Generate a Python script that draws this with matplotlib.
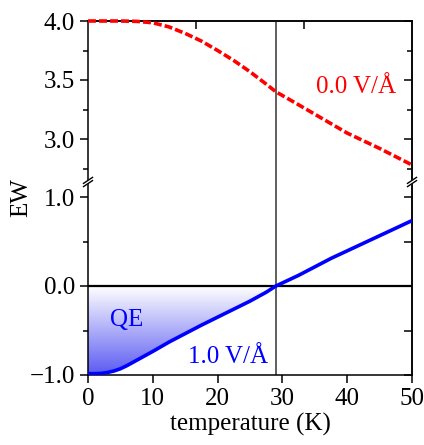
import numpy as np
import matplotlib
matplotlib.use("Agg")
import matplotlib.pyplot as plt
from matplotlib.colors import LinearSegmentedColormap
from matplotlib.patches import Polygon
from matplotlib.lines import Line2D
from matplotlib.ticker import FuncFormatter

# ---- data ----
temp_red = [0, 2.5, 5, 7.5, 10, 12.5, 15, 17.5, 20, 22.5, 25, 27.5, 29, 32.5, 35, 37.5, 40, 42.5, 45, 47.5, 50]
ew_red = [4.0, 4.0, 4.0, 3.997, 3.985, 3.95, 3.895, 3.83, 3.75, 3.665, 3.57, 3.465, 3.40, 3.29, 3.21, 3.13, 3.05, 2.985, 2.92, 2.85, 2.78]

temp_blue = [0, 1, 2, 3, 4, 5, 6, 7, 8, 10, 12.5, 15, 17.5, 20, 22.5, 25, 27.5, 29, 32.5, 35, 37.5, 40, 42.5, 45, 47.5, 50]
ew_blue = [-0.985, -0.985, -0.982, -0.972, -0.955, -0.93, -0.895, -0.855, -0.815, -0.735, -0.63, -0.535, -0.44,
           -0.35, -0.26, -0.17, -0.07, 0.0, 0.12, 0.215, 0.31, 0.395, 0.48, 0.565, 0.65, 0.735]

t_critical = 29.0
label_red = "0.0 V/Å"
label_blue = "1.0 V/Å"
label_qe = "QE"
xticks = [0, 10, 20, 30, 40, 50]

FS = 18
plt.rcParams['font.family'] = ['Liberation Serif', 'DejaVu Serif']
plt.rcParams['font.size'] = FS
plt.rcParams['axes.linewidth'] = 1.1

W, H = 424, 445
fig = plt.figure(figsize=(W / 100, H / 100), dpi=100)
left, right = 88 / W, 412 / W
y_top, y_brk, y_bot = 1 - 21 / H, 1 - 182 / H, 1 - 375 / H

ax_t = fig.add_axes([left, y_brk, right - left, y_top - y_brk])
ax_b = fig.add_axes([left, y_bot, right - left, y_brk - y_bot])

red = '#ff0000'
blue = '#0000ff'
fmt = FuncFormatter(lambda v, p: ('%.1f' % v).replace('-', '\u2212'))

# top panel
ax_t.plot(temp_red, ew_red, color=red, lw=2.6, dashes=(2.2, 0.85), clip_on=False, zorder=3)
ax_t.axvline(t_critical, color='#444444', lw=1.2, zorder=2)
ax_t.set_xlim(0, 50)
ax_t.set_ylim(4.0 - 161 / 118, 4.0)
ax_t.set_yticks([3.0, 3.5, 4.0])
ax_t.set_yticks([2.75, 3.25, 3.75], minor=True)
ax_t.yaxis.set_major_formatter(fmt)
ax_t.set_xticks([])
ax_t.spines['bottom'].set_visible(False)
ax_t.tick_params(axis='y', which='major', direction='out', length=6, width=1.1, right=False)
ax_t.tick_params(axis='y', which='minor', direction='out', length=3.5, width=1.1, right=False)
ax_t.text(41.4, 3.44, label_red, color=red, ha='center', va='center', fontsize=FS)

sec_t = ax_t.secondary_yaxis('right')
sec_t.set_yticks([3.0, 3.5, 4.0])
sec_t.set_yticks([2.75, 3.25, 3.75], minor=True)
sec_t.tick_params(which='major', direction='in', length=6, width=1.1, labelright=False)
sec_t.tick_params(which='minor', direction='in', length=3.5, width=1.1, labelright=False)
sec_t.spines['right'].set_linewidth(1.1)

top_x = ax_t.secondary_xaxis('top')
top_x.set_xticks([50 / 3, 100 / 3])
top_x.tick_params(direction='in', length=6, width=1.1, labeltop=False)

# bottom panel
ax_b.axhline(0, color='black', lw=1.6, zorder=2)
ax_b.axvline(t_critical, color='#444444', lw=1.2, zorder=2)
ax_b.plot(temp_blue, ew_blue, color=blue, lw=2.6, zorder=4, solid_capstyle='butt')
ax_b.set_yticks([-1.0, 0.0, 1.0])
ax_b.set_yticks([-0.5, 0.5], minor=True)
ax_b.yaxis.set_major_formatter(fmt)
ax_b.set_xticks(xticks)
ax_b.spines['top'].set_visible(False)
ax_b.tick_params(axis='y', which='major', direction='out', length=6, width=1.1, right=False)
ax_b.tick_params(axis='y', which='minor', direction='out', length=3.5, width=1.1, right=False)
ax_b.tick_params(axis='x', direction='out', length=6, width=1.1, top=False)
ax_b.set_xlabel('temperature (K)', labelpad=2)

sec_b = ax_b.secondary_yaxis('right')
sec_b.set_yticks([-1.0, 0.0, 1.0])
sec_b.set_yticks([-0.5, 0.5], minor=True)
sec_b.tick_params(which='major', direction='in', length=6, width=1.1, labelright=False)
sec_b.tick_params(which='minor', direction='in', length=6, width=1.1, labelright=False)
sec_b.spines['right'].set_linewidth(1.1)

# gradient QE region
tb = np.array(temp_blue)
eb = np.array(ew_blue)
mask = tb <= t_critical
verts = list(zip(tb[mask], eb[mask])) + [(t_critical, 0.0), (0.0, 0.0)]
poly = Polygon(verts, closed=True, facecolor='none', edgecolor='none', transform=ax_b.transData)
ax_b.add_patch(poly)
cmap = LinearSegmentedColormap.from_list('qe', ['#ffffff', '#5a5af2'])
grad = np.linspace(0, 1, 256).reshape(-1, 1)
im = ax_b.imshow(grad, extent=[0, t_critical, 0, -1.0], origin='lower', cmap=cmap, aspect='auto',
                 zorder=1, interpolation='bilinear')
im.set_clip_path(poly)
ax_b.set_xlim(0, 50)
ax_b.set_ylim(-1.0, -1.0 + 193 / 89)

ax_b.text(6.0, -0.38, label_qe, color=blue, ha='center', va='center', fontsize=FS)
ax_b.text(21.6, -0.80, label_blue, color=blue, ha='center', va='center', fontsize=FS)

# y label
fig.text(21 / W, 1 - 198 / H, 'EW', rotation=90, ha='center', va='center', fontsize=FS)

# break marks
for xs in (left, right):
    dx, dy = 4.5 / W, 3.0 / H
    gap = 1.6 / H
    wpoly = Polygon([(xs - 3 / W, y_brk - gap - 2.5 / H), (xs + 3 / W, y_brk - gap + 1.5 / H),
                     (xs + 3 / W, y_brk + gap + 2.5 / H), (xs - 3 / W, y_brk + gap - 1.5 / H)],
                    closed=True, transform=fig.transFigure, facecolor='white', edgecolor='none', zorder=10)
    fig.add_artist(wpoly)
    for off in (-gap, gap):
        fig.add_artist(Line2D([xs - dx, xs + dx], [y_brk + off - dy, y_brk + off + dy],
                              transform=fig.transFigure, color='black', lw=1.0, zorder=11))

fig.savefig('out.png', dpi=100)
